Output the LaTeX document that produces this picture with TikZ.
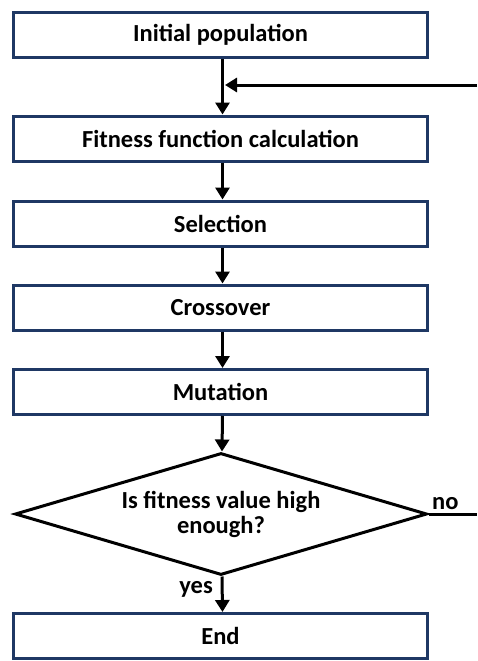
\documentclass[tikz,border=0pt]{standalone}
\usepackage{fontspec}
\setmainfont{Carlito}
\usetikzlibrary{arrows.meta,shapes.geometric}
\definecolor{boxblue}{HTML}{1F3864}
\begin{document}
\begin{tikzpicture}[x=1pt,y=-1pt,
  procbox/.style={draw=boxblue, line width=3pt, minimum width=414pt, minimum height=45pt, inner sep=0pt, font=\bfseries\fontsize{24.5}{25}\selectfont},
  decbox/.style={draw=black, line width=3pt, diamond, minimum width=412pt, minimum height=122pt, aspect=3.4, inner sep=0pt, align=center, font=\bfseries\fontsize{24.5}{25}\selectfont},
  conn/.style={line width=3pt, -{Triangle[length=12pt,width=14pt]}},
  plain/.style={line width=3pt},
  lbl/.style={font=\bfseries\fontsize{24.5}{25}\selectfont, inner sep=0pt}]
\useasboundingbox (0,0) rectangle (477,661);
\node[procbox] (ini) at (220.5,35) {Initial population};
\node[procbox] (fit) at (220.5,138.5) {Fitness function calculation};
\node[procbox] (sel) at (220.5,223.5) {Selection};
\node[procbox] (cro) at (220.5,307.5) {Crossover};
\node[procbox] (mut) at (220.5,392) {Mutation};
\node[decbox] (dec) at (221,514) {Is fitness value high\\enough?};
\node[procbox] (fin) at (220.5,636) {End};
\coordinate (loopin) at (477,85);
\coordinate (join) at (225,85);
\coordinate (noend) at (477,514);
\draw[conn] ([xshift=2pt]ini.south) -- ([xshift=2pt]fit.north);
\draw[conn] (loopin) -- (join);
\draw[conn] ([xshift=2pt]fit.south) -- ([xshift=2pt]sel.north);
\draw[conn] ([xshift=2pt]sel.south) -- ([xshift=2pt]cro.north);
\draw[conn] ([xshift=2pt]cro.south) -- ([xshift=2pt]mut.north);
\draw[conn] ([xshift=2pt]mut.south) -- ([xshift=1pt]dec.north);
\draw[plain] (dec.east) -- (noend);
\draw[conn] ([xshift=1pt]dec.south) -- ([xshift=2pt]fin.north);
\node[lbl, anchor=base west] (nolbl) at (432,509) {no};
\node[lbl, anchor=base east] (yeslbl) at (213,593) {yes};
\end{tikzpicture}
\end{document}
